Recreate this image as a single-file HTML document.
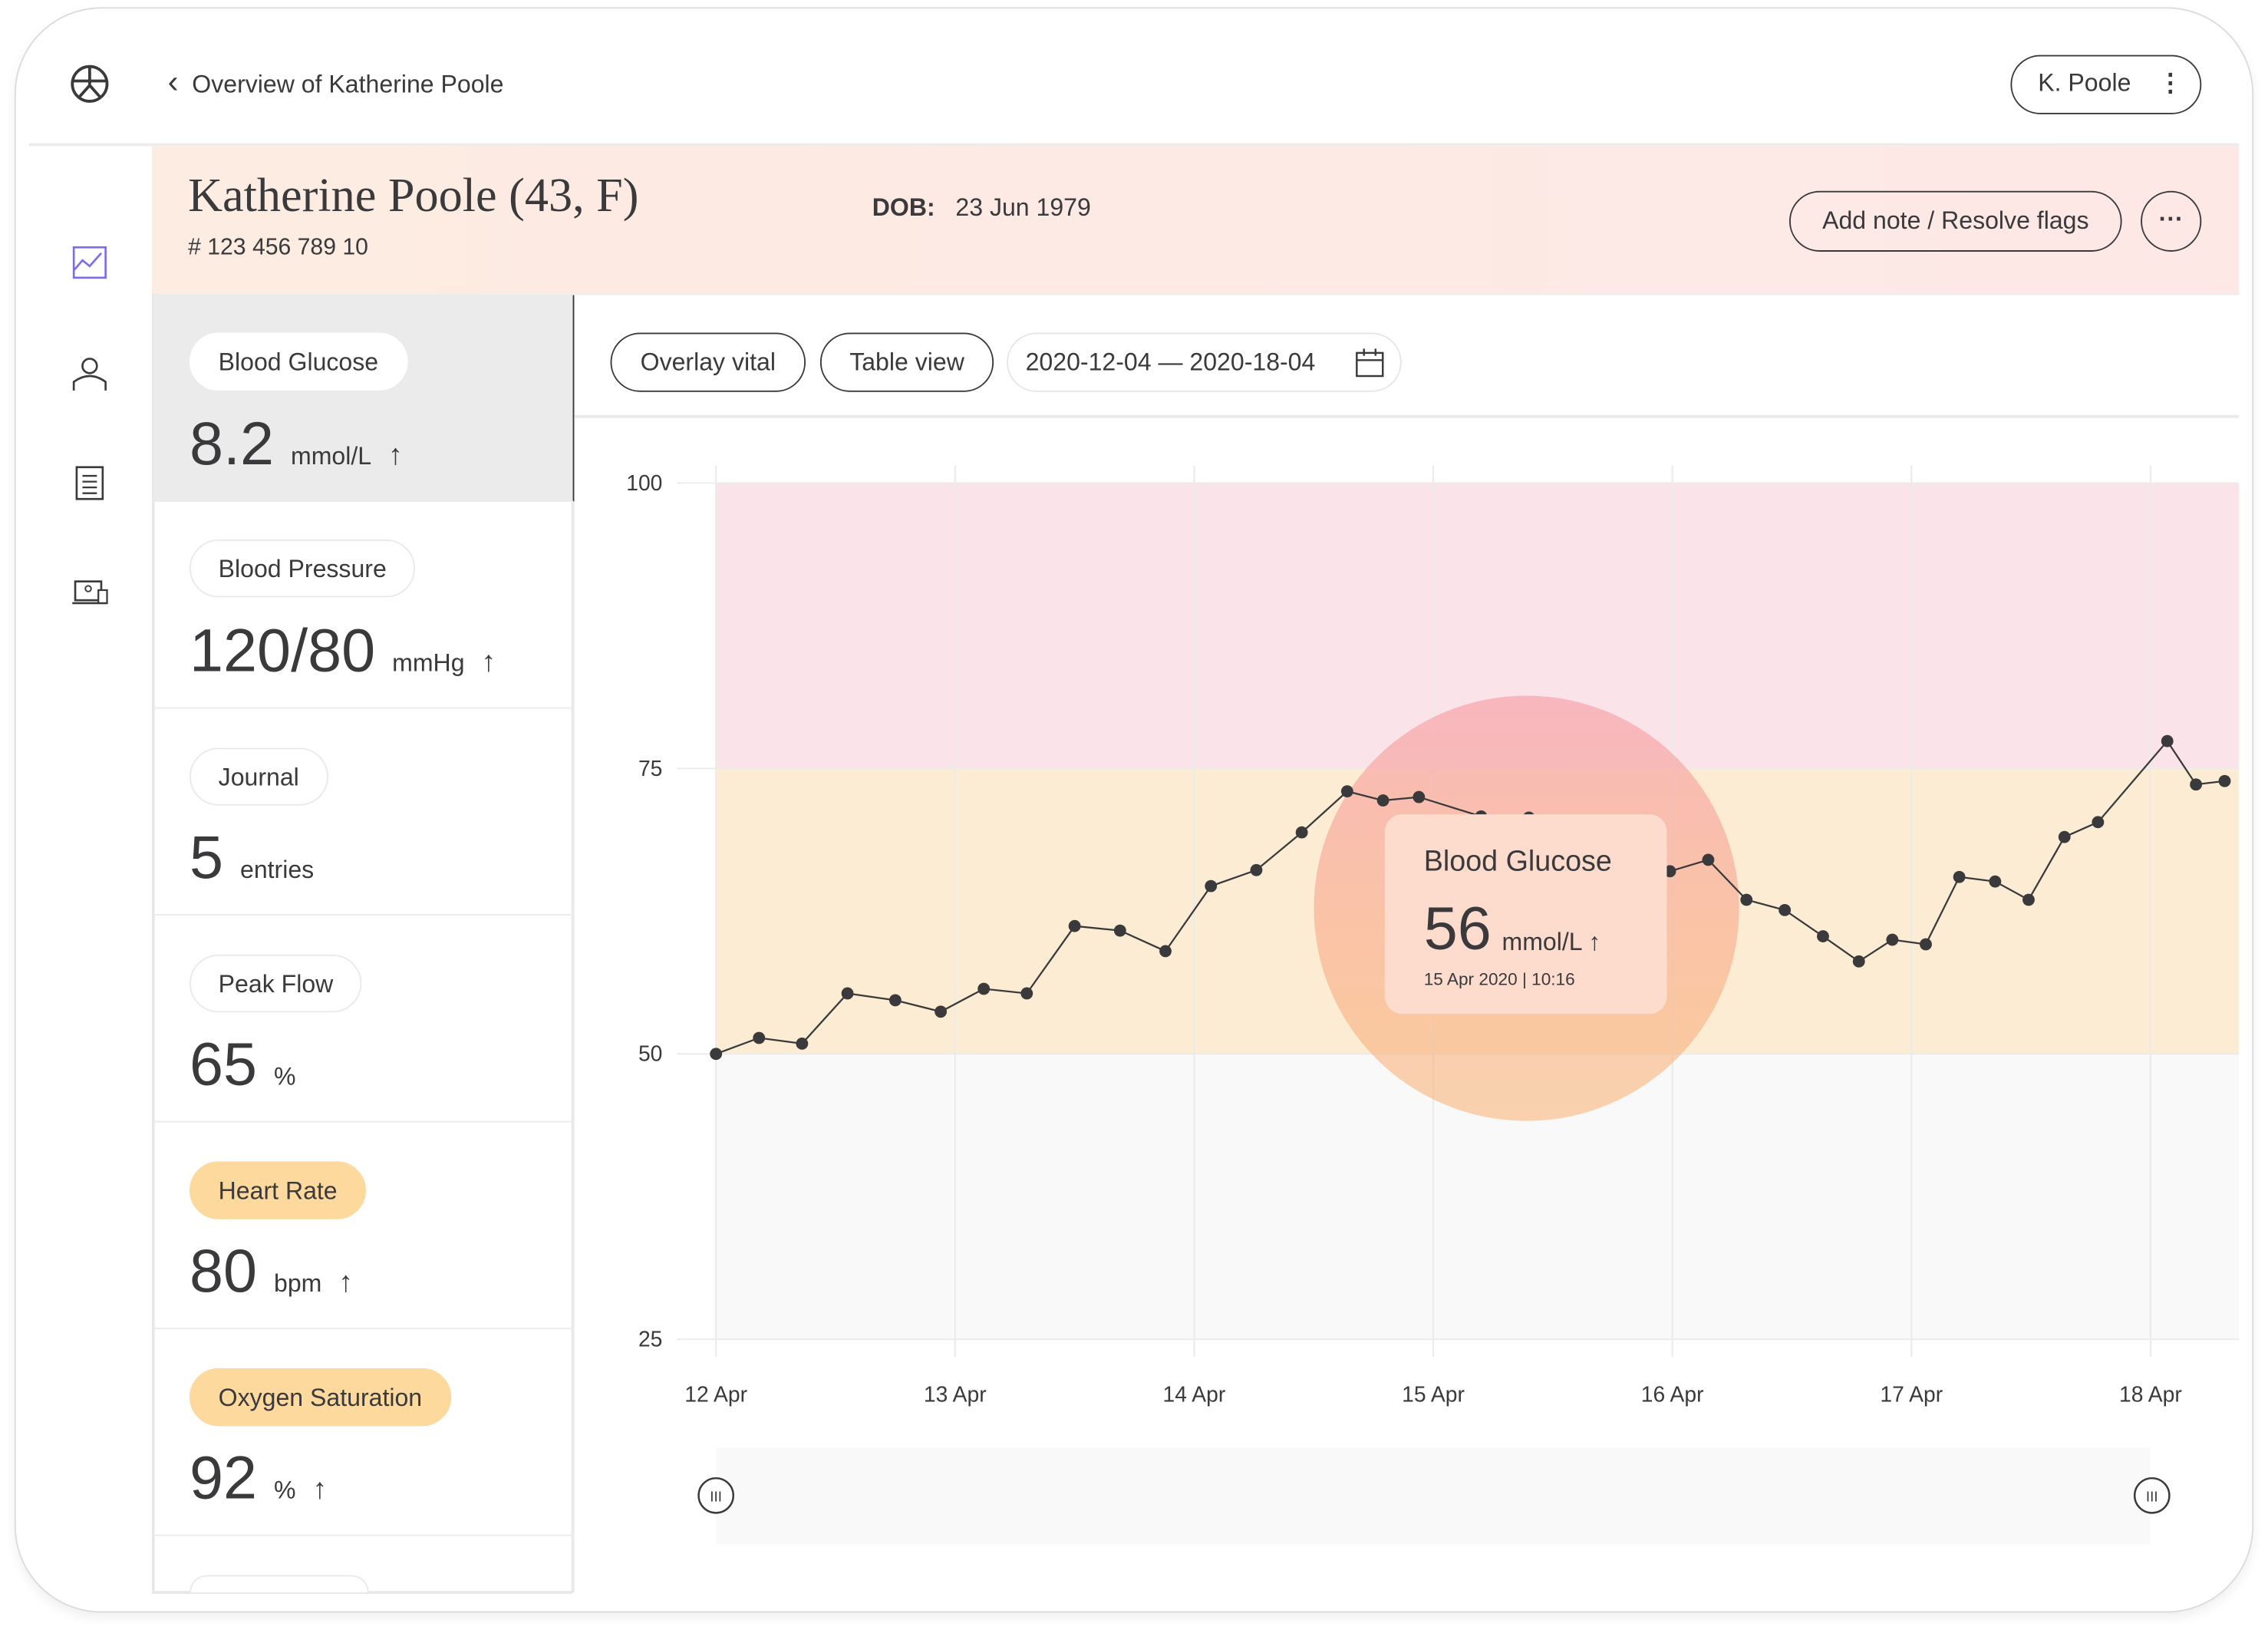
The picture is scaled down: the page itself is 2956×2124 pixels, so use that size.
<!DOCTYPE html>
<html><head><meta charset="utf-8"><style>
html,body{margin:0;padding:0;background:#fff;width:2956px;height:2124px;overflow:hidden}
#wrap{position:absolute;left:0;top:0;width:1568px;height:1127px;transform:scale(1.8852,1.8847);transform-origin:0 0;font-family:"Liberation Sans",sans-serif;color:#3a3a3c}
.abs{position:absolute}
.frame{left:10px;top:5px;width:1546px;height:1108px;border:1.5px solid #dcdcdc;border-radius:60px;box-shadow:0 4px 8px rgba(0,0,0,0.06);background:#fff}
.pill{position:absolute;border-radius:22px;background:#fff;border:1px solid #eaeaea;font-size:17px;line-height:40px;height:40px;padding:0 19px;box-sizing:border-box}
.pill.warn{background:#fdd99e;border-color:#fdd99e}
.val{position:absolute;left:131px;font-size:42px;color:#3a3a3c;white-space:nowrap}
.val small{font-size:17px}
.val b{font-size:20px}
.card{position:absolute;left:106px;width:290px;border-bottom:1.5px solid #ebebeb;height:142px}
.btn{position:absolute;border:1.5px solid #3a3a3c;border-radius:22px;font-size:17px;text-align:center;box-sizing:border-box}
</style></head><body>
<div id="wrap">
<div class="abs frame"></div>
<svg class="abs" style="left:48px;top:44px" width="28" height="28" viewBox="0 0 28 28"><circle cx="14" cy="14" r="12" fill="none" stroke="#3a3a3c" stroke-width="2"/><line x1="2" y1="12" x2="26" y2="12" stroke="#3a3a3c" stroke-width="2"/><line x1="14" y1="2" x2="14" y2="16" stroke="#3a3a3c" stroke-width="2"/><path d="M6 24 L14 15 L22 24" fill="none" stroke="#3a3a3c" stroke-width="2"/></svg>
<div class="abs" style="left:116px;top:48px;font-size:17px"><span style="font-size:22px;line-height:17px">&#8249;</span>&nbsp; Overview of Katherine Poole</div>
<div class="btn" style="left:1390px;top:38px;width:132px;height:41px;line-height:38px;text-align:left;padding-left:18px">K. Poole <span style="margin-left:14px;font-weight:bold">&#8942;</span></div>
<div class="abs" style="left:20px;top:99px;width:1528px;height:2px;background:#ececec"></div>
<svg class="abs" style="left:48px;top:168px" width="28" height="28"><rect x="3" y="3" width="22" height="21" fill="none" stroke="#7b6cf0" stroke-width="1.4"/><polyline points="3,19 9,12 14,16 22,7" fill="none" stroke="#7b6cf0" stroke-width="1.4"/></svg>
<svg class="abs" style="left:48px;top:244px" width="28" height="28"><circle cx="14" cy="9" r="5" fill="none" stroke="#3a3a3c" stroke-width="1.4"/><path d="M3 26 V20 Q14 12 25 20 V26" fill="none" stroke="#3a3a3c" stroke-width="1.4"/></svg>
<svg class="abs" style="left:48px;top:320px" width="28" height="28"><rect x="5" y="3" width="18" height="22" fill="none" stroke="#3a3a3c" stroke-width="1.4"/><path d="M9 9h10M9 13h10M9 17h10M9 21h10" stroke="#3a3a3c" stroke-width="1.2"/></svg>
<svg class="abs" style="left:48px;top:396px" width="28" height="28"><rect x="4" y="6" width="18" height="13" fill="none" stroke="#3a3a3c" stroke-width="1.4"/><path d="M2 21h24" stroke="#3a3a3c" stroke-width="1.4"/><circle cx="13" cy="11" r="2" fill="none" stroke="#3a3a3c"/><rect x="20" y="12" width="6" height="9" fill="#fff" stroke="#3a3a3c" stroke-width="1.2"/></svg>
<div class="abs" style="left:105px;top:101px;width:1443px;height:102px;background:linear-gradient(90deg,#fdece2,#fde8e6);border-bottom:1.5px solid #eee"></div>
<div class="abs" style="left:130px;top:118px;font-family:'Liberation Serif',serif;font-size:33px;color:#3a3a3c">Katherine Poole (43, F)</div>
<div class="abs" style="left:130px;top:163px;font-size:16px"># 123 456 789 10</div>
<div class="abs" style="left:603px;top:134px;font-size:17px"><b>DOB:</b>&nbsp;&nbsp;&nbsp;23 Jun 1979</div>
<div class="btn" style="left:1237px;top:132px;width:230px;height:42px;line-height:40px">Add note / Resolve flags</div>
<div class="btn" style="left:1480px;top:132px;width:42px;height:42px;border-radius:50%;line-height:38px;font-weight:bold">&middot;&middot;&middot;</div>
<div class="abs" style="left:105px;top:203px;width:1.5px;height:898px;background:#e8e8e8"></div>
<div class="abs" style="left:395px;top:346px;width:1.5px;height:755px;background:#e8e8e8"></div>
<div class="abs" style="left:105px;top:1100px;width:291px;height:1.5px;background:#e8e8e8"></div>
<div class="card" style="top:204px;background:#ebebeb;border-right:1.5px solid #3a3a3c;width:290px"></div>
<div class="pill" style="left:131px;top:230px;border-color:#fff">Blood Glucose</div>
<div class="val" style="top:283px">8.2 <small>mmol/L</small> <b>&#8593;</b></div>
<div class="card" style="top:347px"></div>
<div class="pill" style="left:131px;top:373px">Blood Pressure</div>
<div class="val" style="top:426px">120/80 <small>mmHg</small> <b>&#8593;</b></div>
<div class="card" style="top:490px"></div>
<div class="pill" style="left:131px;top:517px">Journal</div>
<div class="val" style="top:569px">5 <small>entries</small></div>
<div class="card" style="top:633px"></div>
<div class="pill" style="left:131px;top:660px">Peak Flow</div>
<div class="val" style="top:712px">65 <small>%</small></div>
<div class="card" style="top:776px"></div>
<div class="pill warn" style="left:131px;top:803px">Heart Rate</div>
<div class="val" style="top:855px">80 <small>bpm</small> <b>&#8593;</b></div>
<div class="card" style="top:919px"></div>
<div class="pill warn" style="left:131px;top:946px">Oxygen Saturation</div>
<div class="val" style="top:998px">92 <small>%</small> <b>&#8593;</b></div>
<div class="pill" style="left:131px;top:1089px;width:124px;height:12px;border-bottom:none;border-radius:22px 22px 0 0"></div>
<div class="btn" style="left:422px;top:230px;width:135px;height:41px;line-height:39px">Overlay vital</div>
<div class="btn" style="left:567px;top:230px;width:120px;height:41px;line-height:39px">Table view</div>
<div class="btn" style="left:696px;top:230px;width:273px;height:41px;line-height:39px;border-color:#e6e6e6;text-align:left;padding-left:12px">2020-12-04 — 2020-18-04
<svg style="position:absolute;left:240px;top:10px" width="20" height="20"><rect x="1" y="3" width="18" height="16" fill="none" stroke="#3a3a3c" stroke-width="1.3"/><path d="M1 8h18M6 0v5M14 0v5" stroke="#3a3a3c" stroke-width="1.3"/></svg></div>
<div class="abs" style="left:397px;top:287px;width:1151px;height:1.5px;background:#eaeaea"></div>
<svg id="chart" class="abs" style="left:0;top:0" width="1568" height="1127"></svg>
</div>
<script>
const days=["12 Apr","13 Apr","14 Apr","15 Apr","16 Apr","17 Apr","18 Apr"];
const yTicks=[25,50,75,100];
const pointDays=[0,0.18,0.36,0.55,0.75,0.94,1.12,1.3,1.5,1.69,1.88,2.07,2.26,2.45,2.64,2.79,2.94,3.2,3.4,3.7,3.99,4.15,4.31,4.47,4.63,4.78,4.92,5.06,5.2,5.35,5.49,5.64,5.78,6.07,6.19,6.31];
const pointValues=[50,51.4,50.9,55.3,54.7,53.7,55.7,55.3,61.2,60.8,59.0,64.7,66.1,69.4,73.0,72.2,72.5,70.8,70.7,68.5,66.0,67.0,63.5,62.6,60.3,58.1,60.0,59.6,65.5,65.1,63.5,69.0,70.3,77.4,73.6,73.9];
const bands=[{from:75,to:100,color:"#fbe4e9"},{from:50,to:75,color:"#fcecd3"},{from:25,to:50,color:"#f9f9f9"}];
const tip={day:3.39,value:56,label:"Blood Glucose",date:"15 Apr 2020 | 10:16"};
const svg=document.getElementById('chart');const NS="http://www.w3.org/2000/svg";
const X0=495,DAY=165.3,XR=1548;
function xs(d){return X0+d*DAY}
function ys(v){return 926-(v-25)*(592/75)}
function mk(t,a,p){const e=document.createElementNS(NS,t);for(const k in a)e.setAttribute(k,a[k]);(p||svg).appendChild(e);return e}
bands.forEach((b,i)=>{const r=mk('rect',{x:X0,y:ys(b.to),width:XR-X0,height:ys(b.from)-ys(b.to),fill:b.color});

});
days.forEach((d,i)=>{const l=mk('line',{x1:xs(i),x2:xs(i),y1:322,y2:938,stroke:'#ebebeb','stroke-width':1.2});


const t=mk('text',{x:xs(i),y:969,'text-anchor':'middle','font-size':15,fill:'#3a3a3c'});t.textContent=d;

});
yTicks.forEach(v=>{const l=mk('line',{x1:468,x2:XR,y1:ys(v),y2:ys(v),stroke:'#ebebeb','stroke-width':1});


const t=mk('text',{x:458,y:ys(v)+5,'text-anchor':'end','font-size':15,fill:'#3a3a3c'});t.textContent=v;

});
const defs=mk('defs',{});
const g=mk('linearGradient',{id:'hg',x1:0,y1:0,x2:0,y2:1},defs);
mk('stop',{offset:0,'stop-color':'#f7a7b0','stop-opacity':0.75},g);mk('stop',{offset:1,'stop-color':'#f9b170','stop-opacity':0.55},g);
const cx=xs(tip.day),cy=628;
const hc=mk('circle',{cx:cx,cy:cy,r:147,fill:'url(#hg)'});


const pl=mk('polyline',{points:pointDays.map((d,i)=>xs(d)+','+ys(pointValues[i])).join(' '),fill:'none',stroke:'#3a3a3c','stroke-width':1.2});


pointDays.forEach((d,i)=>{const c=mk('circle',{cx:xs(d),cy:ys(pointValues[i]),r:4.2,fill:'#3a3a3c'});

});
const tb=mk('rect',{x:cx-98,y:563,width:195,height:138,rx:12,fill:'#fddccd'});


const t1=mk('text',{x:cx-71,y:602,'font-size':20,fill:'#3a3a3c'});t1.textContent=tip.label;


const t2=mk('text',{x:cx-71,y:656,'font-size':42,fill:'#3a3a3c'});t2.textContent=tip.value;


const t3=mk('text',{x:cx-17,y:657,'font-size':17,fill:'#3a3a3c'});t3.textContent='mmol/L \u2191';


const t4=mk('text',{x:cx-71,y:681,'font-size':12,fill:'#3a3a3c'});t4.textContent=tip.date;


const sb=mk('rect',{x:X0,y:1001,width:xs(6)-X0,height:67,fill:'#f9f9f9'});


[0,6].forEach(i=>{const h=mk('circle',{cx:xs(i)+(i?1:0),cy:1034,r:12,fill:'#fff',stroke:'#3a3a3c','stroke-width':1.3});


const tt=mk('text',{x:xs(i)+(i?1:0),y:1038,'text-anchor':'middle','font-size':10,fill:'#3a3a3c'});tt.textContent='III';});
</script>
</body></html>
